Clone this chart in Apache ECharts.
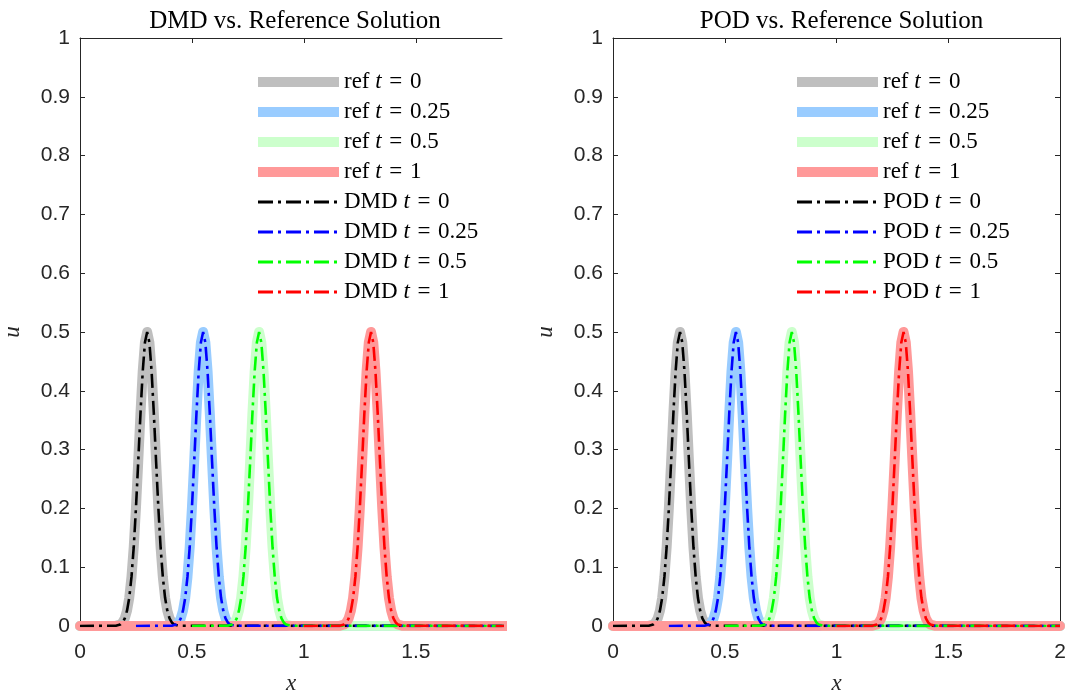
<!DOCTYPE html>
<html>
<head>
<meta charset="utf-8">
<script src="https://cdn.jsdelivr.net/npm/echarts@6/dist/echarts.min.js"></script>
<style>html,body{margin:0;padding:0;background:#fff;}#c{width:1069px;height:696px;}</style>
</head>
<body>
<div id="c"></div>
<script>
// ---- data ----
const timeLabels = ['0', '0.25', '0.5', '1'];
const panelTitles = ['DMD vs. Reference Solution', 'POD vs. Reference Solution'];
const modelNames = ['DMD', 'POD'];
const xTicksLeft = [0, 0.5, 1, 1.5];
const xTicksRight = [0, 0.5, 1, 1.5, 2];

// pulse heights (shared by every profile), including baseline end points
const pulseU = [0, 0.0004, 0.0026, 0.006, 0.013, 0.026, 0.048, 0.0835, 0.134, 0.201, 0.279, 0.360, 0.432, 0.482, 0.5,
                0.482, 0.432, 0.360, 0.279, 0.201, 0.134, 0.0835, 0.048, 0.026, 0.013, 0.006, 0.0026, 0.0004, 0];

// reference profiles x positions
const refX_t0   = [0, 0.16, 0.18, 0.19, 0.20, 0.21, 0.22, 0.23, 0.24, 0.25, 0.26, 0.27, 0.28, 0.29, 0.30, 0.31, 0.32, 0.33, 0.34, 0.35, 0.36, 0.37, 0.38, 0.39, 0.40, 0.41, 0.42, 0.44, 2];
const refX_t025 = [0, 0.41, 0.43, 0.44, 0.45, 0.46, 0.47, 0.48, 0.49, 0.50, 0.51, 0.52, 0.53, 0.54, 0.55, 0.56, 0.57, 0.58, 0.59, 0.60, 0.61, 0.62, 0.63, 0.64, 0.65, 0.66, 0.67, 0.69, 2];
const refX_t05  = [0, 0.66, 0.68, 0.69, 0.70, 0.71, 0.72, 0.73, 0.74, 0.75, 0.76, 0.77, 0.78, 0.79, 0.80, 0.81, 0.82, 0.83, 0.84, 0.85, 0.86, 0.87, 0.88, 0.89, 0.90, 0.91, 0.92, 0.94, 2];
const refX_t1   = [0, 1.16, 1.18, 1.19, 1.20, 1.21, 1.22, 1.23, 1.24, 1.25, 1.26, 1.27, 1.28, 1.29, 1.30, 1.31, 1.32, 1.33, 1.34, 1.35, 1.36, 1.37, 1.38, 1.39, 1.40, 1.41, 1.42, 1.44, 2];

// model (DMD / POD) profiles x positions (each starts at x = t)
const modX_t0   = [0, 0.16, 0.18, 0.19, 0.20, 0.21, 0.22, 0.23, 0.24, 0.25, 0.26, 0.27, 0.28, 0.29, 0.30, 0.31, 0.32, 0.33, 0.34, 0.35, 0.36, 0.37, 0.38, 0.39, 0.40, 0.41, 0.42, 0.44, 2];
const modX_t025 = [0.25, 0.41, 0.43, 0.44, 0.45, 0.46, 0.47, 0.48, 0.49, 0.50, 0.51, 0.52, 0.53, 0.54, 0.55, 0.56, 0.57, 0.58, 0.59, 0.60, 0.61, 0.62, 0.63, 0.64, 0.65, 0.66, 0.67, 0.69, 2];
const modX_t05  = [0.5, 0.66, 0.68, 0.69, 0.70, 0.71, 0.72, 0.73, 0.74, 0.75, 0.76, 0.77, 0.78, 0.79, 0.80, 0.81, 0.82, 0.83, 0.84, 0.85, 0.86, 0.87, 0.88, 0.89, 0.90, 0.91, 0.92, 0.94, 2];
const modX_t1   = [1.0, 1.16, 1.18, 1.19, 1.20, 1.21, 1.22, 1.23, 1.24, 1.25, 1.26, 1.27, 1.28, 1.29, 1.30, 1.31, 1.32, 1.33, 1.34, 1.35, 1.36, 1.37, 1.38, 1.39, 1.40, 1.41, 1.42, 1.44, 2];

const refXs = [refX_t0, refX_t025, refX_t05, refX_t1];
const modXs = [modX_t0, modX_t025, modX_t05, modX_t1];

// ---- styling ----
const refColors = ['#bfbfbf', '#99ccff', '#ccffcc', '#ff9999'];
const modColors = ['#000000', '#0000ff', '#00ff00', '#ff0000'];
const dashDot = [14, 5, 3, 5];
const axisColor = '#262626';
const serif = 'Liberation Serif';
const sans = 'Liberation Sans';

function zip(xs, ys) { return xs.map((x, i) => [x, ys[i]]); }

const grids = [
  { left: 80, right: 567, top: 38, bottom: 70, outerBoundsMode: 'none', containLabel: false },
  { left: 613, right: 9, top: 38, bottom: 70, outerBoundsMode: 'none', containLabel: false }
];
const xMaxes = [1.885, 2];

const xAxes = [], yAxes = [], series = [], legends = [], titles = [];
const legendLefts = [253, 792];
const titleCenters = [290, 836.5];

for (let p = 0; p < 2; p++) {
  const ticks = p === 0 ? xTicksLeft : xTicksRight;
  xAxes.push({
    gridIndex: p, type: 'value', min: 0, max: xMaxes[p], position: 'bottom',
    name: 'x', nameLocation: 'middle', nameGap: 46,
    nameTextStyle: { fontFamily: serif, fontStyle: 'italic', fontSize: 23, color: axisColor },
    axisLine: { show: true, onZero: false, lineStyle: { color: axisColor, width: 1 } },
    axisTick: { show: true, inside: true, length: 5, customValues: ticks, lineStyle: { color: axisColor } },
    axisLabel: { customValues: ticks, margin: 16, fontFamily: sans, fontSize: 21, color: axisColor,
                 formatter: v => String(v) },
    splitLine: { show: false }
  });
  xAxes.push({
    gridIndex: p, type: 'value', min: 0, max: xMaxes[p], position: 'top',
    axisLine: { show: true, onZero: false, lineStyle: { color: axisColor, width: 1 } },
    axisTick: { show: true, inside: true, length: 5, customValues: ticks, lineStyle: { color: axisColor } },
    axisLabel: { show: false }, splitLine: { show: false }
  });
  yAxes.push({
    gridIndex: p, type: 'value', min: 0, max: 1, interval: 0.1, position: 'left',
    name: 'u', nameLocation: 'middle', nameGap: 56,
    nameTextStyle: { fontFamily: serif, fontStyle: 'italic', fontSize: 23, color: axisColor },
    axisLine: { show: true, onZero: false, lineStyle: { color: axisColor, width: 1 } },
    axisTick: { show: true, inside: true, length: 5, lineStyle: { color: axisColor } },
    axisLabel: { margin: 10, fontFamily: sans, fontSize: 21, color: axisColor, formatter: v => String(+v.toFixed(1)) },
    splitLine: { show: false }
  });
  if (p === 1) {
    yAxes.push({
      gridIndex: p, type: 'value', min: 0, max: 1, interval: 0.1, position: 'right',
      axisLine: { show: true, onZero: false, lineStyle: { color: axisColor, width: 1 } },
      axisTick: { show: true, inside: true, length: 5, lineStyle: { color: axisColor } },
      axisLabel: { show: false }, splitLine: { show: false }
    });
  }
  const xi = p * 2;
  const yi = p === 0 ? 0 : 1;
  const legendData = [];
  for (let k = 0; k < 4; k++) {
    const nm = 'ref t = ' + timeLabels[k];
    series.push({
      type: 'line', name: nm, xAxisIndex: xi, yAxisIndex: yi, data: zip(refXs[k], pulseU),
      symbol: 'none', smooth: false, clip: true, z: 2,
      lineStyle: { color: refColors[k], width: 10, cap: 'round', join: 'round' },
      itemStyle: { color: refColors[k] }
    });
    legendData.push({ name: nm, lineStyle: { width: 10, color: refColors[k], type: 'solid', cap: 'butt' } });
  }
  for (let k = 0; k < 4; k++) {
    const nm = modelNames[p] + ' t = ' + timeLabels[k];
    series.push({
      type: 'line', name: nm, xAxisIndex: xi, yAxisIndex: yi, data: zip(modXs[k], pulseU),
      symbol: 'none', smooth: false, clip: true, z: 3,
      lineStyle: { color: modColors[k], width: 2.6, type: dashDot },
      itemStyle: { color: modColors[k] }
    });
    legendData.push({ name: nm, lineStyle: { width: 2.8, color: modColors[k], type: [15, 5, 3, 5] } });
  }
  legends.push({
    left: legendLefts[p], top: 67, orient: 'vertical', itemWidth: 81, itemHeight: 14, itemGap: 0,
    padding: 0, selectedMode: false, data: legendData,
    itemStyle: { opacity: 0 },
    formatter: name => { const parts = name.split(' t '); return '{r|' + parts[0] + ' }{i|t}{r|\u2004=\u2004' + parts[1].replace('= ', '') + '}'; },
    textStyle: { color: '#000', fontFamily: serif, fontSize: 23, lineHeight: 30,
      rich: { r: { fontFamily: serif, fontSize: 23, lineHeight: 30, color: '#000' },
              i: { fontFamily: serif, fontSize: 23, lineHeight: 30, fontStyle: 'italic', color: '#000' } } }
  });
  titles.push({
    text: panelTitles[p], left: titleCenters[p], top: 4, textAlign: 'center',
    textStyle: { fontFamily: serif, fontWeight: 'normal', fontSize: 25, color: '#000' }
  });
}

const chart = echarts.init(document.getElementById('c'), null, { renderer: 'canvas' });
chart.setOption({
  animation: false,
  backgroundColor: '#ffffff',
  title: titles,
  legend: legends,
  grid: grids,
  xAxis: xAxes,
  yAxis: yAxes,
  series: series
});
</script>
</body>
</html>
